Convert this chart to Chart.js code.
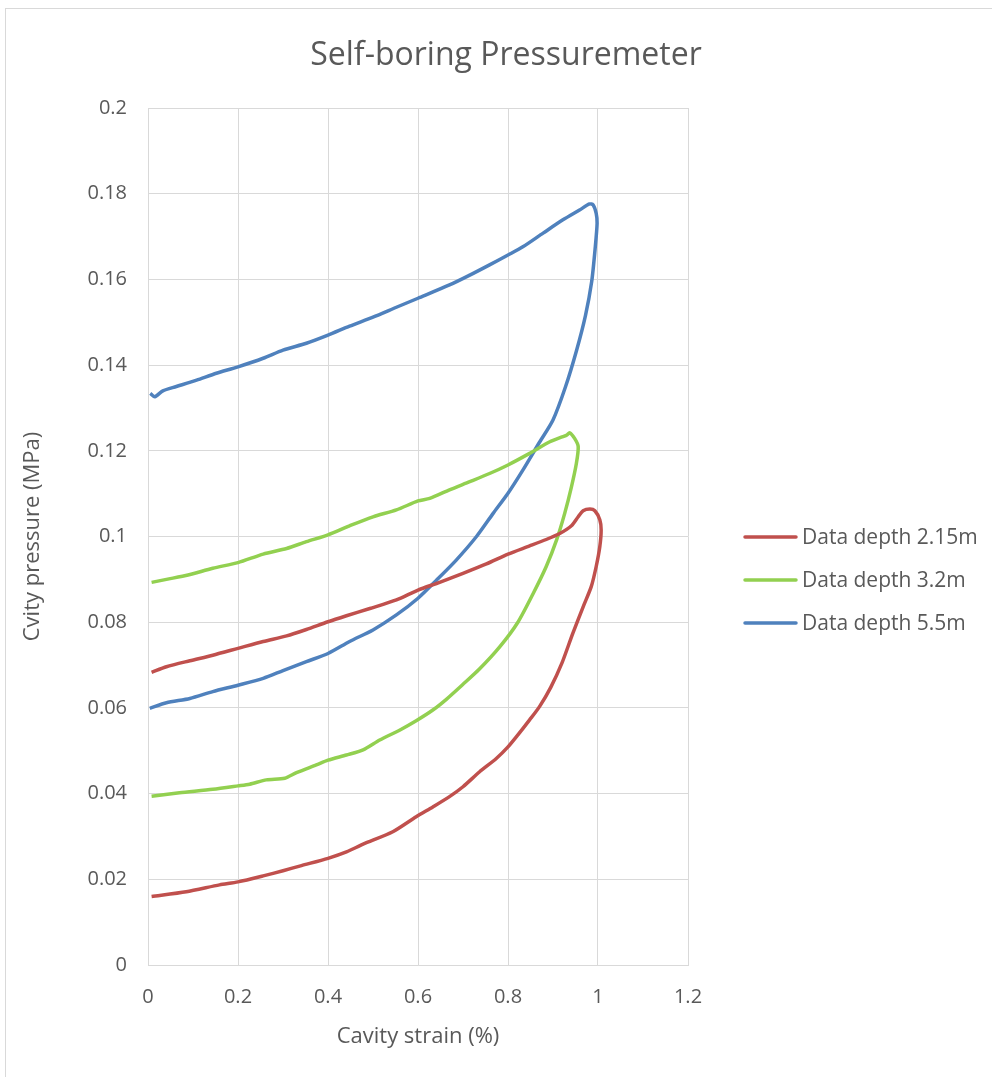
<!DOCTYPE html>
<html>
<head>
<meta charset="utf-8">
<title>Self-boring Pressuremeter</title>
<script src="https://cdn.jsdelivr.net/npm/chart.js@4/dist/chart.umd.min.js"></script>
<style>
  html, body { margin: 0; padding: 0; background: #ffffff; }
  #wrap { position: relative; width: 992px; height: 1077px; }
</style>
</head>
<body>
<div id="wrap"><canvas id="chart"></canvas></div>
<script>
// Pressuremeter loops: each list runs along the lower branch to the peak,
// then back along the upper branch.
const strain215 = [0.008, 0.085, 0.159, 0.200, 0.256, 0.300, 0.341, 0.400, 0.441, 0.478, 0.544, 0.596, 0.633, 0.670, 0.700, 0.737, 0.774, 0.800, 0.822, 0.848, 0.870, 0.895, 0.920, 0.944, 0.967, 0.985, 0.996, 1.004, 1.007, 1.004, 0.993, 0.982, 0.967, 0.956, 0.941, 0.915, 0.885, 0.848, 0.800, 0.752, 0.700, 0.648, 0.600, 0.552, 0.493, 0.441, 0.400, 0.352, 0.308, 0.256, 0.200, 0.144, 0.093, 0.041, 0.008];
const pressure215 = [0.0160, 0.0171, 0.0187, 0.0194, 0.0208, 0.0220, 0.0232, 0.0249, 0.0264, 0.0282, 0.0311, 0.0346, 0.0369, 0.0393, 0.0416, 0.0451, 0.0482, 0.0509, 0.0537, 0.0572, 0.0603, 0.0648, 0.0705, 0.0774, 0.0836, 0.0883, 0.0930, 0.0976, 0.1015, 0.1039, 0.1060, 0.1064, 0.1060, 0.1046, 0.1025, 0.1007, 0.0993, 0.0978, 0.0959, 0.0936, 0.0914, 0.0893, 0.0875, 0.0852, 0.0832, 0.0815, 0.0801, 0.0783, 0.0768, 0.0755, 0.0739, 0.0723, 0.0710, 0.0696, 0.0683];

const strain32 = [0.008, 0.070, 0.144, 0.200, 0.226, 0.263, 0.304, 0.330, 0.374, 0.400, 0.441, 0.478, 0.515, 0.559, 0.596, 0.633, 0.663, 0.700, 0.736, 0.782, 0.822, 0.856, 0.885, 0.908, 0.926, 0.941, 0.952, 0.956, 0.948, 0.937, 0.931, 0.922, 0.893, 0.848, 0.800, 0.759, 0.715, 0.670, 0.626, 0.600, 0.552, 0.500, 0.448, 0.400, 0.352, 0.308, 0.256, 0.200, 0.144, 0.089, 0.041, 0.008];
const pressure32 = [0.0394, 0.0402, 0.0410, 0.0418, 0.0422, 0.0432, 0.0436, 0.0449, 0.0467, 0.0478, 0.0490, 0.0502, 0.0525, 0.0548, 0.0570, 0.0595, 0.0620, 0.0655, 0.0690, 0.0743, 0.0800, 0.0867, 0.0930, 0.0992, 0.1054, 0.1116, 0.1171, 0.1210, 0.1229, 0.1242, 0.1237, 0.1233, 0.1221, 0.1194, 0.1167, 0.1147, 0.1128, 0.1109, 0.1089, 0.1083, 0.1062, 0.1046, 0.1025, 0.1004, 0.0988, 0.0972, 0.0959, 0.0939, 0.0926, 0.0910, 0.0900, 0.0893];

const strain55 = [0.004, 0.041, 0.093, 0.144, 0.200, 0.256, 0.300, 0.352, 0.400, 0.448, 0.500, 0.552, 0.600, 0.641, 0.685, 0.730, 0.767, 0.800, 0.833, 0.870, 0.900, 0.928, 0.952, 0.972, 0.986, 0.994, 0.998, 0.996, 0.989, 0.981, 0.959, 0.922, 0.878, 0.833, 0.800, 0.759, 0.715, 0.670, 0.600, 0.552, 0.500, 0.448, 0.400, 0.352, 0.300, 0.256, 0.200, 0.152, 0.108, 0.063, 0.033, 0.015, 0.005];
const pressure55 = [0.0599, 0.0612, 0.0622, 0.0638, 0.0653, 0.0669, 0.0687, 0.0708, 0.0727, 0.0755, 0.0782, 0.0817, 0.0856, 0.0898, 0.0945, 0.1000, 0.1054, 0.1101, 0.1155, 0.1220, 0.1272, 0.1350, 0.1433, 0.1515, 0.1595, 0.1676, 0.1731, 0.1754, 0.1774, 0.1776, 0.1762, 0.1739, 0.1708, 0.1676, 0.1657, 0.1634, 0.1610, 0.1587, 0.1556, 0.1535, 0.1512, 0.1491, 0.1470, 0.1451, 0.1435, 0.1416, 0.1396, 0.1381, 0.1365, 0.1350, 0.1340, 0.1326, 0.1334];

const seriesNames = ['Data depth 2.15m', 'Data depth 3.2m', 'Data depth 5.5m'];
const seriesColors = ['#C0504D', '#92D050', '#4F81BD'];
const chartTitle = 'Self-boring Pressuremeter';
const xAxisTitle = 'Cavity strain (%)';
const yAxisTitle = 'Cvity pressure (MPa)';

const FONT = '"Open Sans", "Liberation Sans", sans-serif';
const TEXT = '#595959';
const GRID = '#D9D9D9';

function toPoints(xs, ys) {
  return xs.map((x, i) => ({ x: x, y: ys[i] }));
}

const allStrain = [strain215, strain32, strain55];
const allPressure = [pressure215, pressure32, pressure55];

const datasets = seriesNames.map((name, i) => ({
  label: name,
  data: toPoints(allStrain[i], allPressure[i]),
  showLine: true,
  borderColor: seriesColors[i],
  backgroundColor: seriesColors[i],
  borderWidth: 3.5,
  borderJoinStyle: 'round',
  pointRadius: 0,
  pointHoverRadius: 0,
  tension: 0.25,
  fill: false
}));

// Outer frame, centred title and the side legend.
const decorations = {
  id: 'decorations',
  beforeDraw(chart) {
    const ctx = chart.ctx;
    ctx.save();
    ctx.strokeStyle = GRID;
    ctx.lineWidth = 1;
    ctx.strokeRect(5.5, 8.5, 1010, 1100);
    ctx.restore();
  },
  afterDraw(chart) {
    const ctx = chart.ctx;
    ctx.save();
    ctx.fillStyle = TEXT;
    ctx.font = '32px ' + FONT;
    ctx.textAlign = 'center';
    ctx.textBaseline = 'middle';
    ctx.fillText(chartTitle, 506, 56);

    ctx.font = '21px ' + FONT;
    ctx.textAlign = 'left';
    chart.data.datasets.forEach((ds, i) => {
      const y = 537 + i * 43;
      ctx.strokeStyle = ds.borderColor;
      ctx.lineWidth = 3.5;
      ctx.lineCap = 'round';
      ctx.beginPath();
      ctx.moveTo(745, y);
      ctx.lineTo(796, y);
      ctx.stroke();
      ctx.fillStyle = TEXT;
      ctx.fillText(ds.label, 802, y + 1);
    });
    ctx.restore();
  }
};

new Chart(document.getElementById('chart'), {
  type: 'scatter',
  data: { datasets: datasets },
  options: {
    responsive: true,
    maintainAspectRatio: false,
    animation: false,
    layout: { padding: { left: 0, right: 304, top: 108, bottom: 0 } },
    plugins: {
      legend: { display: false },
      title: { display: false },
      tooltip: { enabled: false }
    },
    scales: {
      x: {
        type: 'linear',
        min: 0,
        max: 1.2,
        ticks: {
          stepSize: 0.2,
          color: TEXT,
          font: { family: FONT, size: 20 },
          padding: 20,
          maxRotation: 0,
          callback: v => String(Math.round(v * 10) / 10)
        },
        grid: { color: GRID, lineWidth: 1, drawTicks: false },
        border: { color: GRID, width: 1 },
        title: {
          display: true,
          text: xAxisTitle,
          color: TEXT,
          font: { family: FONT, size: 22 },
          padding: { top: 0, bottom: 27 }
        },
        afterFit(scale) { scale.height = 112; }
      },
      y: {
        type: 'linear',
        min: 0,
        max: 0.2,
        ticks: {
          stepSize: 0.02,
          color: TEXT,
          font: { family: FONT, size: 20 },
          padding: 21,
          callback: v => String(Math.round(v * 100) / 100)
        },
        grid: { color: GRID, lineWidth: 1, drawTicks: false },
        border: { color: GRID, width: 1 },
        title: {
          display: true,
          text: yAxisTitle,
          color: TEXT,
          font: { family: FONT, size: 22 },
          padding: { top: 20, bottom: 0 }
        },
        afterFit(scale) { scale.width = 148; }
      }
    }
  },
  plugins: [decorations]
});
</script>
</body>
</html>
